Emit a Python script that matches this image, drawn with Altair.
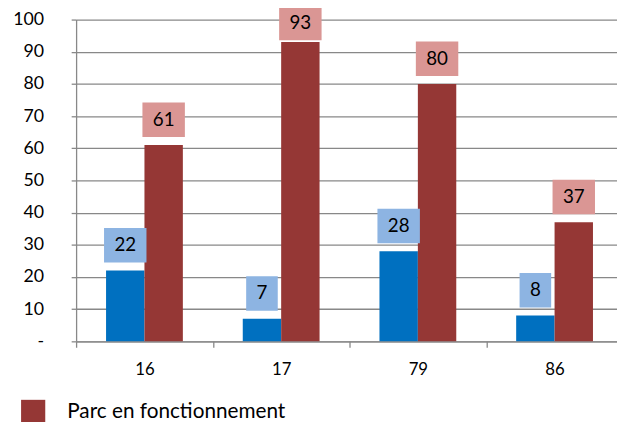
import altair as alt
import pandas as pd

categories = ["16", "17", "79", "86"]
series_names = ["Autre parc", "Parc en fonctionnement"]
blue_values = [22, 7, 28, 8]
red_values = [61, 93, 80, 37]

rows = []
for i, c in enumerate(categories):
    rows.append({"cat": c, "series": series_names[0], "value": blue_values[i]})
    rows.append({"cat": c, "series": series_names[1], "value": red_values[i]})
df = pd.DataFrame(rows)

FONT = "Lato"
bar_colors = ["#0070C0", "#953735"]
box_colors = ["#8DB4E2", "#DA9694"]

x_enc = alt.X(
    "cat:N",
    sort=categories,
    scale=alt.Scale(range=[0, 554], paddingInner=0, paddingOuter=0),
    axis=alt.Axis(
        title=None, labelAngle=0, tickBand="extent", tickSize=6, labelPadding=15,
        domainColor="#888888", tickColor="#888888", domainWidth=1.3, tickWidth=1.3,
        labelFont=FONT, labelFontSize=17, labelColor="#000000", grid=False,
    ),
)
xoff = alt.XOffset(
    "series:N", sort=series_names,
    scale=alt.Scale(paddingOuter=0.78, paddingInner=0),
)
y_scale = alt.Scale(domain=[0, 100], nice=False, zero=True)
y_axis = alt.Axis(
    title=None, values=list(range(0, 101, 10)), tickCount=20, tickSize=5, labelPadding=28,
    labelExpr="datum.value == 0 ? '-' : datum.label", labelOverlap=False,
    domainColor="#888888", tickColor="#888888", gridColor="#888888",
    domainWidth=1.3, tickWidth=1.3, gridWidth=1.3,
    labelFont=FONT, labelFontSize=18, labelColor="#000000",
)

base = alt.Chart(df)

bars = base.mark_bar().encode(
    x=x_enc,
    xOffset=xoff,
    y=alt.Y("value:Q", scale=y_scale, axis=y_axis),
    color=alt.Color(
        "series:N", sort=series_names,
        scale=alt.Scale(domain=series_names, range=bar_colors),
        legend=alt.Legend(
            title=None, orient="none", legendX=-56, legendY=385,
            values=["Parc en fonctionnement"], symbolType="square", symbolSize=600,
            symbolStrokeWidth=0, labelFont=FONT, labelFontSize=21, labelColor="#000000",
            labelOffset=22, labelLimit=500,
        ),
    ),
)

label_base = base.transform_calculate(
    top="min(datum.value + 13.2, 104.3)",
).transform_calculate(
    bot="datum.top - 10.7",
    mid="datum.top - 5.35",
    bw="datum.value < 10 ? 32 : 43",
)

boxes = label_base.mark_bar(clip=False).encode(
    x=x_enc,
    xOffset=xoff,
    y=alt.Y("top:Q", scale=y_scale, axis=y_axis),
    y2="bot:Q",
    size=alt.Size("bw:Q", scale=None),
    color=alt.Color("series:N", sort=series_names,
                    scale=alt.Scale(domain=series_names, range=box_colors), legend=None),
)

texts = label_base.mark_text(
    font=FONT, fontSize=19, color="#000000", baseline="middle", align="center", clip=False
).encode(
    x=x_enc,
    xOffset=xoff,
    y=alt.Y("mid:Q", scale=y_scale, axis=y_axis),
    text="value:Q",
)

chart = alt.layer(bars, boxes, texts).resolve_scale(color="independent").properties(
    width=548,
    height=326,
    autosize=alt.AutoSizeParams(type="none"),
    padding={"left": 69, "top": 9, "right": 0, "bottom": 79},
).configure_view(stroke=None)

chart.save("out.html", embed_options={"renderer": "svg", "actions": False})
